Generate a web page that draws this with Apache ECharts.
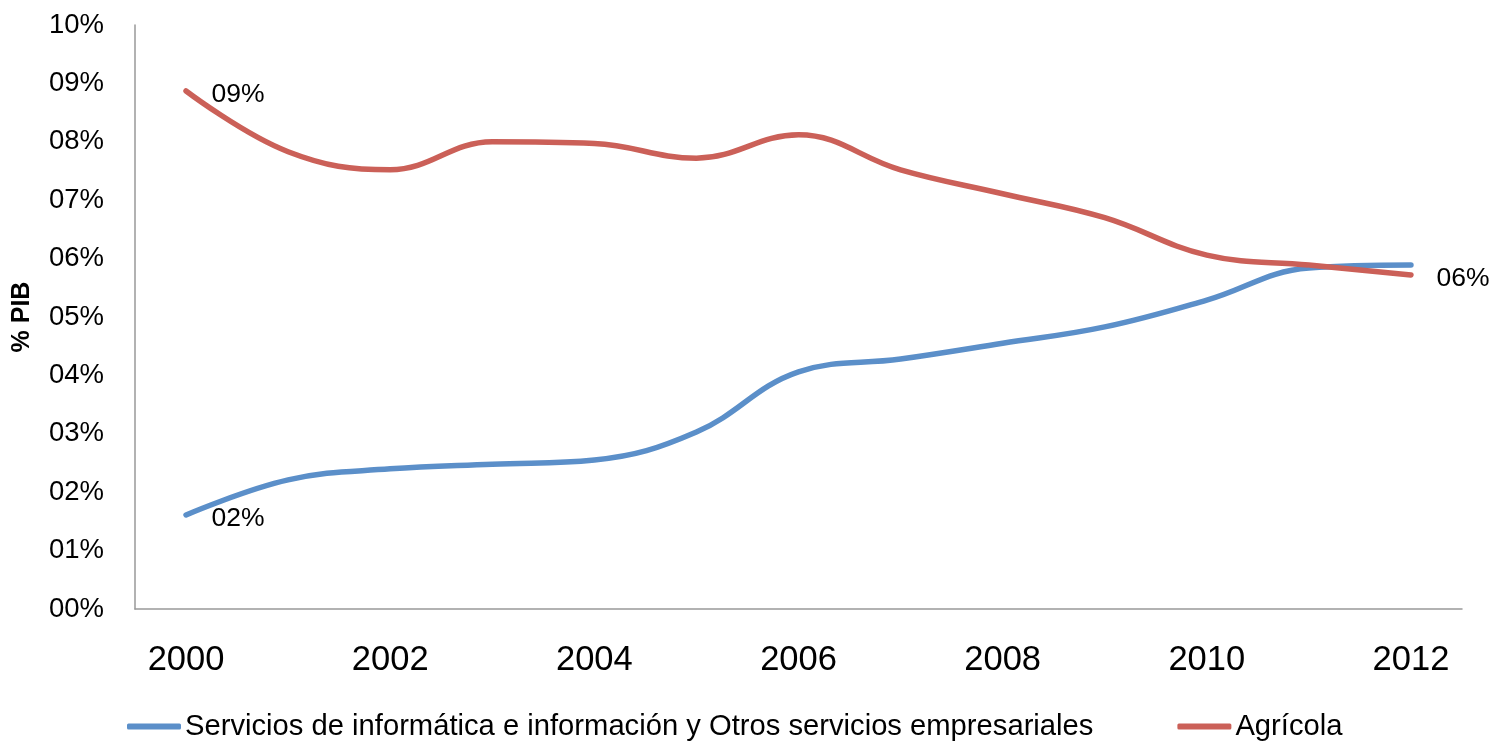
<!DOCTYPE html>
<html>
<head>
<meta charset="utf-8">
<script src="https://cdn.jsdelivr.net/npm/echarts@6/dist/echarts.min.js"></script>
<style>
html,body{margin:0;padding:0;background:#fff;}
#chart{width:1489px;height:743px;}
</style>
</head>
<body>
<div id="chart"></div>
<script>
const years = ['2000','2001','2002','2003','2004','2005','2006','2007','2008','2009','2010','2011','2012'];
const serviciosName = 'Servicios de informática e información y Otros servicios empresariales';
const agricolaName = 'Agrícola';
const servicios = [1.61, 2.21, 2.40, 2.48, 2.55, 3.03, 4.06, 4.28, 4.55, 4.83, 5.29, 5.84, 5.89];
const agricola = [8.87, 7.83, 7.52, 8.00, 7.97, 7.72, 8.12, 7.52, 7.11, 6.70, 6.06, 5.89, 5.72];
const yTicks = [0, 10, 1]; // min, max, interval (percent)

const FONT = 'Liberation Sans';
const pad = v => (Math.round(v) < 10 ? '0' : '') + Math.round(v) + '%';

function withLabels(values, idxs) {
  return values.map((v, i) => idxs.includes(i)
    ? {value: v, label: {show: true, position: 'right', distance: 25, offset: [0, 4],
        formatter: p => pad(p.value), fontSize: 26.5, color: '#000', fontFamily: FONT}}
    : v);
}

const chart = echarts.init(document.getElementById('chart'), null, {renderer: 'canvas'});
chart.setOption({
  backgroundColor: '#fff',
  animation: false,
  grid: {left: 135, right: 27, top: 25, bottom: 134, containLabel: false},
  legend: {
    top: 712, left: 127, padding: 0,
    itemWidth: 54, itemHeight: 6, itemGap: 84,
    icon: 'roundRect',
    textStyle: {fontSize: 29.2, color: '#000', fontFamily: FONT, padding: [0, 0, 0, -1]},
    data: [serviciosName, agricolaName]
  },
  xAxis: {
    type: 'category',
    data: years,
    boundaryGap: true,
    axisLine: {lineStyle: {color: '#999', width: 1.5}},
    axisTick: {show: false},
    axisLabel: {interval: 1, fontSize: 34.5, color: '#000', fontFamily: FONT, margin: 34}
  },
  yAxis: {
    type: 'value',
    min: yTicks[0], max: yTicks[1], interval: yTicks[2],
    name: '% PIB',
    nameLocation: 'middle',
    nameRotate: 90,
    nameGap: 100,
    nameTextStyle: {fontSize: 25, fontWeight: 'bold', color: '#000', fontFamily: FONT},
    axisLine: {show: true, lineStyle: {color: '#999', width: 1.5}},
    axisTick: {show: false},
    splitLine: {show: false},
    axisLabel: {formatter: v => pad(v), fontSize: 27.5, color: '#000', fontFamily: FONT, margin: 31}
  },
  series: [
    {
      name: serviciosName, type: 'line', smooth: 0.4,
      data: withLabels(servicios, [0]),
      symbol: 'circle', symbolSize: 1, showSymbol: true,
      itemStyle: {color: '#5B8FC9'},
      lineStyle: {color: '#5B8FC9', width: 5.5, cap: 'round'}
    },
    {
      name: agricolaName, type: 'line', smooth: 0.4,
      data: withLabels(agricola, [0, agricola.length - 1]),
      symbol: 'circle', symbolSize: 1, showSymbol: true,
      itemStyle: {color: '#CB6058'},
      lineStyle: {color: '#CB6058', width: 5.5, cap: 'round'}
    }
  ]
});
</script>
</body>
</html>
